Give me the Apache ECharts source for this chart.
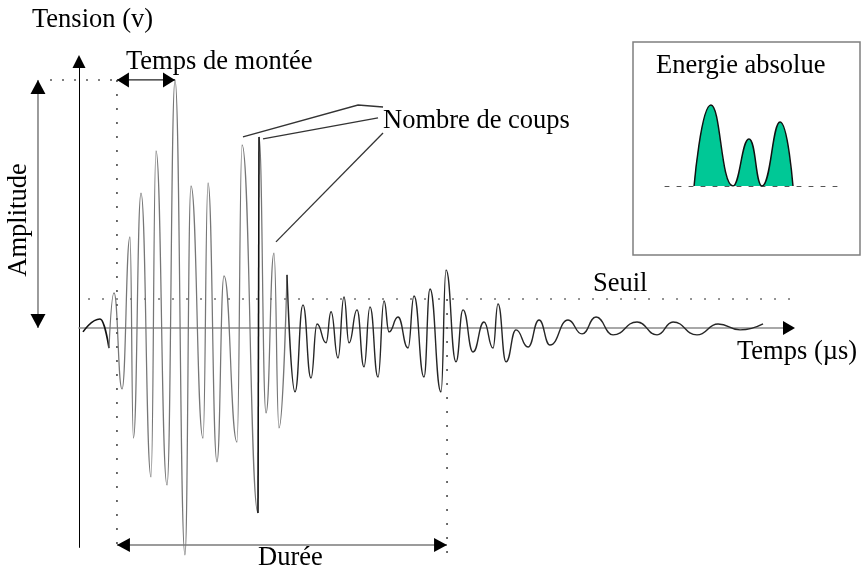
<!DOCTYPE html>
<html><head><meta charset="utf-8">
<script src="https://cdn.jsdelivr.net/npm/echarts@6/dist/echarts.min.js"></script>
<style>html,body{margin:0;padding:0;background:#fff}#c{width:868px;height:572px}</style>
</head><body><div id="c"></div>
<script>
// ---- waveform (time in µs, tension in arbitrary units; extrema)
const onsetT = [0.56, 2.93, 4.19];
const onsetV = [-1.6, 3.6, -8.1];
const burstT = [4.19, 4.89, 6.01, 7.12, 7.6, 8.66, 10.06, 10.75, 12.29, 13.41, 14.80, 15.64, 17.32, 18.02, 19.27, 20.25, 22.07, 22.77, 25.0, 25.14, 26.12, 27.23, 27.93, 29.05];
const burstV = [-8.1, 14.1, -24.6, 36.7, -44.4, 54.4, -60.1, 71.4, -63.3, 100, -91.5, 57.3, -44.4, 58.5, -54.0, 21.0, -46.0, 73.8, -74.6, 77.0, -34.3, 30.2, -40.3, 21.4];
const spikeT = [25.0, 25.14];
const spikeV = [-74.6, 77.0];
const tailT = [29.05, 30.17, 31.28, 32.40, 33.24, 34.50, 35.20, 36.17, 37.01, 37.71, 38.83, 39.80, 40.64, 41.76, 42.60, 43.30, 44.55, 45.95, 46.79, 48.18, 49.02, 50.56, 51.26, 52.65, 53.63, 55.03, 56.56, 57.82, 58.52, 59.64, 61.03, 62.71, 64.25, 65.78, 68.30, 70.25, 72.21, 74.58, 77.93, 80.73, 82.96, 86.31, 89.25, 92.32, 95.53];
const tailV = [21.4, -25.8, 9.3, -20.2, 1.6, -6.0, 6.5, -12.1, 12.5, -6.0, 7.3, -15.7, 8.5, -19.8, 10.9, -1.6, 4.4, -8.1, 12.9, -19.8, 15.7, -25.8, 23.4, -13.7, 7.3, -9.7, 2.4, -8.1, 9.7, -13.7, -0.8, -7.7, 3.2, -6.9, 3.2, -2.4, 4.4, -2.8, 2.4, -2.8, 2.4, -2.8, 1.6, -0.8, 1.6];

// ---- annotation values
const amplitude = 100;
const threshold = 11.7;
const firstCross = 5.3;
const peakTime = 13.41;
const lastCross = 51.4;
const dureeLevel = -87.5;
const amplitudeArrowT = -5.73;

// ---- inset "Energie absolue"
const energyT = [16.9, 26.7, 39.5, 48.8, 56.4, 66.9, 74.4];
const energyV = [0, 90, 0, 52.2, 0, 71.1, 0];

const labels = {
  yTitle: 'Tension (v)', xTitle: 'Temps (µs)', rise: 'Temps de montée', counts: 'Nombre de coups',
  energy: 'Energie absolue', seuil: 'Seuil', duree: 'Durée', amp: 'Amplitude'
};

const zip = (a, b) => a.map((v, i) => [v, b[i]]);
const chart = echarts.init(document.getElementById('c'), null, {renderer: 'canvas'});
const FONT = '26.5px "Liberation Serif", "Times New Roman", serif';

chart.setOption({
  animation: false,
  backgroundColor: '#fff',
  grid: [
    {left: 79, top: 62.6, width: 710.3, height: 484.8},
    {left: 665, top: 96, width: 172, height: 90}
  ],
  xAxis: [
    {gridIndex: 0, type: 'value', min: 0, max: 99.2, axisLine: {show: true, onZero: true, lineStyle: {color: '#8c8c8c', width: 1.6}},
     axisTick: {show: false}, axisLabel: {show: false}, splitLine: {show: false}},
    {gridIndex: 1, type: 'value', min: 0, max: 100, axisLine: {show: true, lineStyle: {color: '#555', width: 1, type: [4, 8]}},
     axisTick: {show: false}, axisLabel: {show: false}, splitLine: {show: false}}
  ],
  yAxis: [
    {gridIndex: 0, type: 'value', min: -88.5, max: 107, axisLine: {show: true, lineStyle: {color: '#000', width: 1}},
     axisTick: {show: false}, axisLabel: {show: false}, splitLine: {show: false}},
    {gridIndex: 1, type: 'value', min: 0, max: 100, show: false}
  ],
  series: [
    {type: 'line', xAxisIndex: 0, yAxisIndex: 0, data: zip(onsetT, onsetV), smooth: 0.5, smoothMonotone: 'x', showSymbol: false,
     clip: false, lineStyle: {color: '#111', width: 1.6}, z: 3},
    {type: 'line', xAxisIndex: 0, yAxisIndex: 0, data: zip(burstT, burstV), smooth: 0.5, smoothMonotone: 'x', showSymbol: false,
     clip: false, lineStyle: {color: '#767676', width: 1.25}, z: 3},
    {type: 'line', xAxisIndex: 0, yAxisIndex: 0, data: zip(spikeT, spikeV), showSymbol: false,
     clip: false, lineStyle: {color: '#111', width: 1.5}, z: 4},
    {type: 'line', xAxisIndex: 0, yAxisIndex: 0, data: zip(tailT, tailV), smooth: 0.5, smoothMonotone: 'x', showSymbol: false,
     clip: false, lineStyle: {color: '#262626', width: 1.4}, z: 3},
    {type: 'line', xAxisIndex: 1, yAxisIndex: 1, data: zip(energyT, energyV), smooth: 0.5, showSymbol: false,
     lineStyle: {color: '#111', width: 1.5}, areaStyle: {color: '#00C896', opacity: 1, origin: 'start'}, z: 3}
  ]
});

const P = (t, v) => chart.convertToPixel({gridIndex: 0}, [t, v]);
const els = [];
function line(a, b, stroke, w, dash) {
  els.push({type: 'line', shape: {x1: a[0], y1: a[1], x2: b[0], y2: b[1]},
    style: {stroke: stroke, lineWidth: w, lineDash: dash || null}, z: 10});
}
function poly(pts, stroke, w) {
  els.push({type: 'polyline', shape: {points: pts}, style: {stroke: stroke, lineWidth: w, fill: null}, z: 10});
}
function head(tip, from, len, wid, color) {
  const dx = tip[0] - from[0], dy = tip[1] - from[1];
  const L = Math.hypot(dx, dy) || 1;
  const ux = dx / L, uy = dy / L, px = -uy, py = ux;
  const bx = tip[0] - ux * len, by = tip[1] - uy * len;
  els.push({type: 'polygon', shape: {points: [[tip[0], tip[1]], [bx + px * wid / 2, by + py * wid / 2], [bx - px * wid / 2, by - py * wid / 2]]},
    style: {fill: color || '#000'}, z: 11});
}
function text(str, x, y, extra) {
  els.push(Object.assign({type: 'text', x: x, y: y, z: 12,
    style: {text: str, x: 0, y: 0, font: FONT, fill: '#000', textAlign: 'left', align: 'left', textVerticalAlign: 'middle', verticalAlign: 'middle'}}, extra || {}));
}

// axis arrowheads
const yTop = P(0, 110.1), yBase = P(0, 100);
head(yTop, yBase, 13, 13);
const xEnd = P(100, 0), xBase = P(90, 0);
head(xEnd, xBase, 12, 14);

// dotted guides
line(P(-4.05, amplitude), P(firstCross, amplitude), '#555', 1.5, [2, 10]);
line(P(firstCross, amplitude), P(firstCross, -89.5), '#555', 1.7, [2, 12]);
line(P(lastCross, threshold), P(lastCross, -91.5), '#555', 1.7, [2, 12]);
line(P(1.26, threshold), P(99.7, threshold), '#707070', 1.5, [2, 12]);

// Temps de montée arrow
const r0 = P(firstCross, amplitude), r1 = P(peakTime, amplitude);
line(r0, r1, '#222', 1.2);
head(r0, r1, 12, 15); head(r1, r0, 12, 15);

// Amplitude arrow
const a0 = P(amplitudeArrowT, amplitude), a1 = P(amplitudeArrowT, 0);
line(a0, a1, '#9a9a9a', 2);
head(a0, a1, 14, 15); head(a1, a0, 14, 15);

// Durée arrow
const d0 = P(firstCross, dureeLevel), d1 = P(lastCross, dureeLevel);
line(d0, d1, '#7a7a7a', 1.5);
head(d0, d1, 13, 14); head(d1, d0, 13, 14);

// pointers for "Nombre de coups"
const pointers = [
  [[22.9, 77.0], [38.97, 89.9], [42.46, 89.1]],
  [[25.70, 76.2], [41.76, 84.7]],
  [[27.51, 34.7], [42.46, 78.6]]
];
pointers.forEach(p => poly(p.map(q => P(q[0], q[1])), '#333', 1.3));

// inset frame
els.push({type: 'rect', shape: {x: 633, y: 42, width: 227, height: 213}, style: {stroke: '#7f7f7f', lineWidth: 1.5, fill: null}, z: 1});

// texts
text(labels.yTitle, 32, 20);
text(labels.rise, 126, 62);
text(labels.counts, 383, 121);
text(labels.energy, 656, 66);
text(labels.seuil, 593, 284);
text(labels.xTitle, 737, 352);
text(labels.duree, 258, 558);
els.push({type: 'text', x: 19, y: 220, rotation: Math.PI / 2, z: 12,
  style: {text: labels.amp, x: 0, y: 0, font: FONT, fill: '#000', textAlign: 'center', align: 'center', textVerticalAlign: 'middle', verticalAlign: 'middle'}});

chart.setOption({graphic: {elements: els}});
</script></body></html>
